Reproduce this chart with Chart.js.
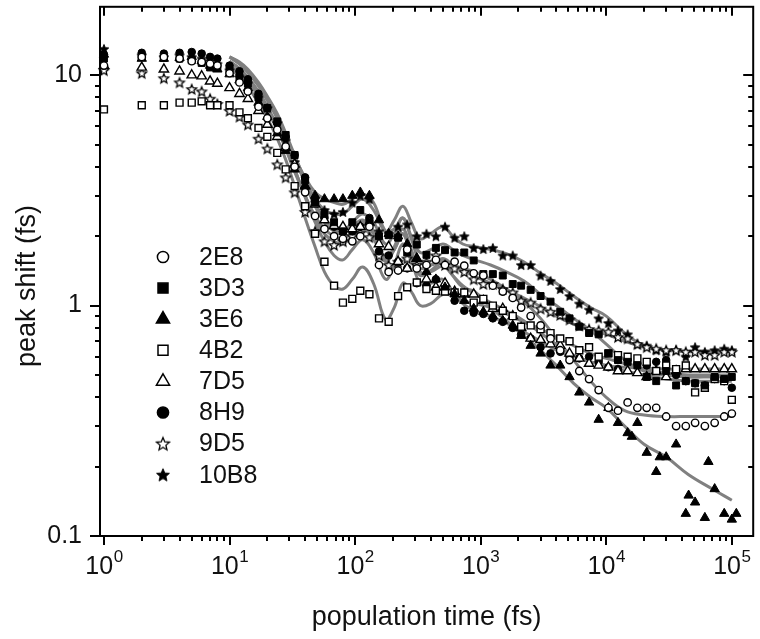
<!DOCTYPE html>
<html lang="en">
<head>
<meta charset="UTF-8" />
<title>Peak shift vs population time</title>
<script src="https://cdn.jsdelivr.net/npm/chart.js"></script>
<style>
  body { margin: 0; background: #fff; }
  #wrap { width: 760px; height: 639px; }
</style>
</head>
<body>
<div id="wrap"><canvas id="shiftChart" width="760" height="639"></canvas></div>
<script>
// population time grid (fs) shared by the measured samples
const times = [1, 2, 3, 4, 5, 6, 7, 8, 10, 12, 14, 17, 20, 24, 28, 33, 40, 48, 57, 68,
  80, 95, 110, 130, 155, 185, 220, 260, 310, 370, 440, 520, 620, 740, 880, 1050, 1250, 1500, 1800, 2100,
  2500, 3000, 3600, 4300, 5100, 6100, 7300, 8700, 10400, 12400, 14800, 17700, 21000, 25000, 30000, 36000, 43000, 51000, 61000, 73000,
  87000, 100000];

// peak shift (fs) per sample
const s2E8 = [11.0, 12.0, 12.0, 11.8, 11.5, 11.4, 11.2, 11.0, 10.2, 9.3,
  8.5, 7.3, 6.5, 5.8, 4.9, 4.0, 3.1, 2.45, 2.15, 2.0,
  1.95, 1.9, 2.0, 2.2, 1.5, 1.4, 1.42, 1.75, 1.45, 1.5,
  1.58, 1.5, 1.55, 1.49, 1.38, 1.35, 1.22, 1.15, 1.08, 0.98,
  0.9, 0.82, 0.72, 0.64, 0.58, 0.52, 0.48, 0.43, 0.36, 0.35,
  0.38, 0.36, 0.36, 0.36, 0.33, 0.30, 0.30, 0.31, 0.30, 0.31,
  0.33, 0.34];
const s3D3 = [11.8, 12.0, 11.9, 11.8, 11.6, 11.3, 10.8, 10.8, 10.5, 9.8,
  9.2, 8.0, 7.2, 6.3, 5.5, 4.5, 3.5, 2.8, 2.5, 2.3,
  2.1, 2.3, 2.6, 2.3, 2.0, 2.02, 1.97, 1.7, 1.84, 1.66,
  1.78, 1.74, 1.7, 1.7, 1.57, 1.37, 1.37, 1.35, 1.24, 1.22,
  1.17, 1.1, 1.04, 0.94, 0.88, 0.81, 0.76, 0.75, 0.62, 0.58,
  0.57, 0.55, 0.49, 0.47, 0.52, 0.45, 0.47, 0.46, 0.45, 0.49,
  0.48, 0.49];
const s3E6 = [12.3, 11.8, 11.8, 11.9, 12.0, 11.5, 11.0, 10.6, 10.1, 9.5,
  8.8, 7.6, 6.6, 5.6, 4.7, 3.9, 3.3, 3.0, 2.9, 2.9,
  2.9, 3.0, 3.1, 3.0, 2.35, 2.05, 2.0, 1.85, 1.6, 1.4,
  1.3, 1.2, 1.12, 1.05, 0.97, 0.94, 0.9, 0.86, 0.82, 0.74,
  0.67, 0.62, 0.55, 0.55, 0.49, 0.42, 0.38, 0.32, 0.36, 0.31,
  0.28, 0.31, 0.23, 0.19, 0.22, 0.25, 0.125, 0.14, 0.12, 0.16,
  0.125, 0.118];
// a few extra late 3E6 points that fall between grid times
const t3E6extra = [16000, 26700, 45300, 65100, 108600];
const s3E6extra = [0.27, 0.22, 0.15, 0.21, 0.125];
const s4B2 = [7.1, 7.4, 7.4, 7.6, 7.6, 7.7, 7.4, 7.4, 7.4, 6.9,
  6.5, 5.9, 5.4, 4.6, 3.9, 3.3, 2.7, 2.05, 1.55, 1.22,
  1.03, 1.07, 1.16, 1.12, 0.88, 0.85, 1.1, 1.2, 1.26, 1.18,
  1.16, 1.15, 1.14, 1.14, 1.03, 1.07, 1.0, 0.95, 0.9, 0.81,
  0.82, 0.79, 0.76, 0.72, 0.7, 0.64, 0.66, 0.6, 0.62, 0.61,
  0.6, 0.59, 0.57, 0.52, 0.55, 0.53, 0.55, 0.42, 0.44, 0.48,
  0.47, 0.39];
const s7D5 = [11.0, 10.8, 10.6, 10.4, 10.0, 9.9, 9.4, 9.2, 8.8, 8.3,
  7.9, 7.0, 6.1, 5.4, 4.85, 4.1, 3.3, 2.75, 2.35, 2.22,
  2.2, 2.15, 2.2, 2.3, 1.85, 1.8, 1.55, 1.45, 1.6, 1.3,
  1.2, 1.25, 1.15, 1.12, 1.12, 1.05, 0.97, 0.97, 0.9, 0.8,
  0.72, 0.71, 0.68, 0.67, 0.62, 0.59, 0.56, 0.55, 0.54, 0.52,
  0.52, 0.51, 0.49, 0.52, 0.49, 0.52, 0.53, 0.53, 0.53, 0.53,
  0.53, 0.53];
const s8H9 = [12.3, 12.5, 12.4, 12.5, 12.6, 12.4, 12.0, 11.8, 11.0, 10.4,
  9.6, 8.3, 7.2, 6.2, 5.4, 4.5, 3.6, 2.9, 2.4, 2.2,
  2.1, 2.1, 2.2, 2.4, 1.72, 1.65, 1.55, 1.45, 1.25, 1.22,
  1.3, 1.2, 1.05, 0.95, 0.93, 0.92, 0.88, 0.85, 0.8, 0.75,
  0.72, 0.66, 0.62, 0.63, 0.6, 0.59, 0.6, 0.57, 0.54, 0.53,
  0.58, 0.56, 0.55, 0.57, 0.58, 0.5, 0.47, 0.46, 0.45, 0.48,
  0.47, 0.44];
const s9D5 = [10.5, 10.2, 9.7, 9.3, 8.7, 8.5, 7.9, 7.5, 7.0, 6.6,
  6.1, 5.3, 4.8, 4.1, 3.6, 3.1, 2.55, 2.1, 1.9, 1.83,
  1.9, 2.0, 2.07, 1.98, 1.65, 1.5, 1.55, 1.6, 1.5, 1.55,
  1.65, 1.5, 1.45, 1.4, 1.3, 1.24, 1.24, 1.18, 1.14, 1.05,
  1.03, 0.97, 0.94, 0.91, 0.87, 0.82, 0.79, 0.78, 0.77, 0.73,
  0.72, 0.68, 0.66, 0.65, 0.64, 0.64, 0.63, 0.63, 0.61, 0.61,
  0.63, 0.63];
const s10B8 = [13.0, 12.2, 12.0, 12.2, 12.0, 11.8, 11.5, 11.2, 10.5, 9.8,
  9.2, 8.0, 7.2, 6.2, 5.2, 4.2, 3.2, 2.8, 2.6, 2.5,
  2.55, 2.8, 3.0, 2.9, 2.1, 2.05, 2.2, 2.25, 2.0, 2.05,
  2.0, 2.2, 1.97, 2.0, 1.78, 1.76, 1.78, 1.65, 1.65, 1.5,
  1.5, 1.35, 1.28, 1.18, 1.1, 1.02, 0.96, 0.88, 0.84, 0.78,
  0.75, 0.68, 0.67, 0.64, 0.63, 0.64, 0.6, 0.66, 0.63, 0.64,
  0.65, 0.64];

// fitted curves (grey lines)
const fitTimes = [10, 12, 14, 17, 20, 24, 28, 33, 40, 48, 57, 68, 80,
  95, 115, 140, 175, 205, 240, 280, 330, 400, 500,
  600, 720, 900, 1200, 1600, 2200, 3000, 4000, 5500, 7500,
  10000, 14000, 20000, 30000, 45000, 70000, 100000];
const fit2E8 = [11.5, 10.7, 9.8, 8.5, 7.3, 6.0, 4.9, 3.9, 2.95, 2.3, 1.9, 1.65, 1.58,
  1.75, 1.93, 1.7, 1.3, 1.5, 1.85, 1.6, 1.35, 1.42, 1.55,
  1.5, 1.45, 1.4, 1.3, 1.18, 1.04, 0.88, 0.72, 0.58, 0.47,
  0.4, 0.35, 0.335, 0.33, 0.33, 0.33, 0.33];
const fit3D3 = [12.0, 11.2, 10.3, 9.0, 7.8, 6.5, 5.4, 4.4, 3.4, 2.75, 2.35, 2.15, 2.1,
  2.3, 2.5, 2.3, 1.85, 2.05, 2.4, 2.0, 1.7, 1.75, 1.85,
  1.75, 1.65, 1.58, 1.5, 1.4, 1.28, 1.12, 1.0, 0.88, 0.78,
  0.68, 0.58, 0.52, 0.5, 0.49, 0.49, 0.49];
const fit3E6 = [12.0, 11.2, 10.3, 9.0, 7.8, 6.5, 5.4, 4.4, 3.6, 3.1, 2.9, 2.8, 2.75,
  2.9, 3.05, 2.8, 2.1, 2.15, 2.4, 1.95, 1.55, 1.5, 1.55,
  1.35, 1.2, 1.15, 0.98, 0.86, 0.74, 0.64, 0.55, 0.46, 0.4,
  0.36, 0.3, 0.25, 0.22, 0.185, 0.16, 0.143];
const fit4B2 = [10.8, 9.8, 8.9, 7.6, 6.5, 5.3, 4.3, 3.3, 2.4, 1.8, 1.4, 1.22, 1.18,
  1.3, 1.47, 1.25, 0.87, 0.98, 1.25, 1.15, 1.0, 1.02, 1.12,
  1.1, 1.05, 1.02, 0.98, 0.92, 0.85, 0.79, 0.73, 0.67, 0.62,
  0.59, 0.56, 0.53, 0.51, 0.5, 0.5, 0.5];
const fit7D5 = [11.0, 10.3, 9.4, 8.1, 7.0, 5.8, 4.8, 3.8, 3.0, 2.45, 2.15, 2.0, 1.95,
  2.1, 2.3, 2.05, 1.6, 1.8, 2.15, 1.75, 1.4, 1.4, 1.48,
  1.35, 1.22, 1.12, 1.03, 0.95, 0.86, 0.76, 0.68, 0.61, 0.57,
  0.55, 0.54, 0.535, 0.53, 0.53, 0.53, 0.53];
const fit8H9 = [12.0, 11.3, 10.4, 9.1, 7.9, 6.6, 5.5, 4.4, 3.4, 2.7, 2.3, 2.1, 2.05,
  2.2, 2.35, 2.1, 1.6, 1.75, 2.05, 1.6, 1.25, 1.25, 1.3,
  1.15, 1.02, 0.95, 0.9, 0.84, 0.77, 0.7, 0.64, 0.6, 0.57,
  0.55, 0.52, 0.5, 0.48, 0.47, 0.47, 0.47];
const fit9D5 = [11.5, 10.6, 9.7, 8.4, 7.2, 6.0, 4.9, 3.9, 3.0, 2.4, 2.05, 1.9, 1.85,
  2.0, 2.15, 1.95, 1.55, 1.75, 2.05, 1.7, 1.45, 1.5, 1.6,
  1.5, 1.42, 1.34, 1.25, 1.17, 1.08, 0.99, 0.9, 0.83, 0.78,
  0.75, 0.7, 0.66, 0.64, 0.63, 0.63, 0.63];
const fit10B8 = [12.0, 11.4, 10.6, 9.3, 8.1, 6.8, 5.6, 4.5, 3.5, 2.9, 2.6, 2.5, 2.5,
  2.7, 2.9, 2.6, 2.1, 2.35, 2.7, 2.3, 1.95, 2.05, 2.2,
  2.0, 1.85, 1.8, 1.75, 1.68, 1.55, 1.38, 1.25, 1.1, 0.98,
  0.9, 0.76, 0.67, 0.64, 0.635, 0.635, 0.635];

const sampleNames = ['2E8', '3D3', '3E6', '4B2', '7D5', '8H9', '9D5', '10B8'];
const sampleValues = [s2E8, s3D3, s3E6, s4B2, s7D5, s8H9, s9D5, s10B8];
const fitValues = [fit2E8, fit3D3, fit3E6, fit4B2, fit7D5, fit8H9, fit9D5, fit10B8];

const xTickDecades = [1, 10, 100, 1000, 10000, 100000];
const xTickExponents = ['0', '1', '2', '3', '4', '5'];
const yTickDecades = [0.1, 1, 10];
const yTickLabels = ['0.1', '1', '10'];

const FONT = '"Liberation Sans", Arial, Helvetica, sans-serif';

// 5-point star as a small canvas (Chart.js 'star' is an asterisk)
function makeStar(R, filled) {
  const size = Math.ceil(2 * R + 4);
  const c = document.createElement('canvas');
  c.width = size; c.height = size;
  const g = c.getContext('2d');
  const cx = size / 2, cy = size / 2 + R * 0.1;
  g.beginPath();
  for (let i = 0; i < 10; i++) {
    const r = i % 2 ? R * 0.45 : R;
    const a = -Math.PI / 2 + i * Math.PI / 5;
    const px = cx + r * Math.cos(a), py = cy + r * Math.sin(a);
    if (i) g.lineTo(px, py); else g.moveTo(px, py);
  }
  g.closePath();
  g.fillStyle = filled ? '#000' : '#fff';
  g.fill();
  g.lineWidth = filled ? 0.9 : 1.3;
  g.strokeStyle = '#000';
  g.stroke();
  return c;
}

// marker look per sample
const markerStyles = {
  '2E8': { shape: 'circle', filled: false, r: 3.7 },
  '3D3': { shape: 'rect', filled: true, r: 4.9 },
  '3E6': { shape: 'triangle', filled: true, r: 5.4 },
  '4B2': { shape: 'rect', filled: false, r: 4.9 },
  '7D5': { shape: 'triangle', filled: false, r: 5.4 },
  '8H9': { shape: 'circle', filled: true, r: 3.8 },
  '9D5': { shape: 'star', filled: false, r: 5.0 },
  '10B8': { shape: 'star', filled: true, r: 5.0 }
};

function pointsFor(ts, vs) {
  const pts = [];
  ts.forEach((t, i) => { if (vs[i] != null) pts.push({ x: t, y: vs[i] }); });
  return pts;
}

const datasets = [];
sampleNames.forEach((name, k) => {
  const m = markerStyles[name];
  let pts = pointsFor(times, sampleValues[k]);
  if (name === '3E6') pts = pts.concat(pointsFor(t3E6extra, s3E6extra));
  datasets.push({
    label: name,
    data: pts,
    showLine: false,
    pointStyle: m.shape === 'star' ? makeStar(m.r, m.filled) : m.shape,
    pointRadius: m.r,
    pointBackgroundColor: m.filled ? '#000' : '#fff',
    pointBorderColor: '#000',
    pointBorderWidth: m.filled ? 1 : 1.4,
    clip: false,
    order: 0
  });
});
sampleNames.forEach((name, k) => {
  datasets.push({
    label: name + ' fit',
    data: fitTimes.map((t, i) => ({ x: t, y: fitValues[k][i] })),
    showLine: true,
    borderColor: '#808080',
    borderWidth: 3,
    pointRadius: 0,
    tension: 0.4,
    fill: false,
    order: 1
  });
});

function drawLegendMarker(ctx, name, cx, cy) {
  const m = markerStyles[name];
  if (m.shape === 'star') {
    const img = makeStar(6.8, m.filled);
    ctx.drawImage(img, cx - img.width / 2, cy - img.height / 2);
    return;
  }
  ctx.beginPath();
  if (m.shape === 'circle') {
    ctx.arc(cx, cy, 5.6, 0, Math.PI * 2);
  } else if (m.shape === 'rect') {
    ctx.rect(cx - 5, cy - 5, 10, 10);
  } else {
    const R = 7.6;
    ctx.moveTo(cx, cy - R);
    ctx.lineTo(cx + R * 0.866, cy + R * 0.5);
    ctx.lineTo(cx - R * 0.866, cy + R * 0.5);
    ctx.closePath();
  }
  ctx.fillStyle = m.filled ? '#000' : '#fff';
  ctx.fill();
  ctx.lineWidth = 1.5;
  ctx.strokeStyle = '#000';
  ctx.stroke();
}

const framePlugin = {
  id: 'frame',
  beforeDraw(chart) {
    const ctx = chart.ctx;
    ctx.save();
    ctx.fillStyle = '#fff';
    ctx.fillRect(0, 0, chart.width, chart.height);
    ctx.restore();
  },
  afterDraw(chart) {
    const { ctx, chartArea: a, scales: { x, y } } = chart;
    ctx.save();
    ctx.strokeStyle = '#000';
    ctx.lineWidth = 2;
    ctx.strokeRect(a.left, a.top, a.right - a.left, a.bottom - a.top);

    // ticks: outward on bottom/left, mirrored inward on top/right
    ctx.beginPath();
    xTickDecades.forEach(d => {
      for (let m = 1; m <= 9; m++) {
        const v = d * m;
        if (v < x.min || v > x.max) continue;
        const px = Math.round(x.getPixelForValue(v));
        const len = m === 1 ? 9 : 5;
        ctx.moveTo(px, a.bottom); ctx.lineTo(px, a.bottom + len);
        ctx.moveTo(px, a.top); ctx.lineTo(px, a.top + len);
      }
    });
    yTickDecades.forEach(d => {
      for (let m = 1; m <= 9; m++) {
        const v = d * m;
        if (v < y.min || v > y.max) continue;
        const py = Math.round(y.getPixelForValue(v));
        const len = m === 1 ? 10 : 5;
        ctx.moveTo(a.left - len, py); ctx.lineTo(a.left, py);
        ctx.moveTo(a.right - len, py); ctx.lineTo(a.right, py);
      }
    });
    ctx.stroke();

    ctx.fillStyle = '#111';
    // y tick labels
    ctx.font = '25px ' + FONT;
    ctx.textAlign = 'right';
    ctx.textBaseline = 'middle';
    yTickDecades.forEach((v, i) => ctx.fillText(yTickLabels[i], a.left - 18, y.getPixelForValue(v)));

    // x tick labels 10^n
    ctx.textAlign = 'left';
    ctx.textBaseline = 'alphabetic';
    xTickDecades.forEach((v, i) => {
      const px = x.getPixelForValue(v);
      ctx.font = '25px ' + FONT;
      const w1 = ctx.measureText('10').width;
      ctx.font = '17px ' + FONT;
      const w2 = ctx.measureText(xTickExponents[i]).width;
      const x0 = px - (w1 + w2) / 2;
      ctx.font = '25px ' + FONT;
      ctx.fillText('10', x0, a.bottom + 38);
      ctx.font = '17px ' + FONT;
      ctx.fillText(xTickExponents[i], x0 + w1 + 0.5, a.bottom + 26);
    });

    // axis titles
    ctx.font = '27px ' + FONT;
    ctx.textAlign = 'center';
    ctx.fillText('population time (fs)', (a.left + a.right) / 2, 625);
    ctx.save();
    ctx.translate(35, 286);
    ctx.rotate(-Math.PI / 2);
    ctx.fillText('peak shift (fs)', 0, 0);
    ctx.restore();

    // legend inside the plot
    ctx.font = '25px ' + FONT;
    ctx.textAlign = 'left';
    ctx.textBaseline = 'middle';
    sampleNames.forEach((name, i) => {
      const cy = 257 + i * 31.1;
      drawLegendMarker(ctx, name, 163, cy);
      ctx.fillStyle = '#111';
      ctx.fillText(name, 199, cy + 1);
    });
    ctx.restore();
  }
};

new Chart(document.getElementById('shiftChart'), {
  type: 'scatter',
  data: { datasets },
  options: {
    responsive: false,
    animation: false,
    events: [],
    layout: { padding: { top: 2, right: 3, left: 0, bottom: 0 } },
    plugins: { legend: { display: false }, tooltip: { enabled: false } },
    scales: {
      x: {
        type: 'logarithmic',
        min: 0.93,
        max: 148000,
        grid: { display: false },
        border: { display: false },
        ticks: { display: false },
        afterFit: s => { s.height = 103; }
      },
      y: {
        type: 'logarithmic',
        min: 0.1,
        max: 19.8,
        grid: { display: false },
        border: { display: false },
        ticks: { display: false },
        afterFit: s => { s.width = 100; }
      }
    }
  },
  plugins: [framePlugin]
});
</script>
</body>
</html>
